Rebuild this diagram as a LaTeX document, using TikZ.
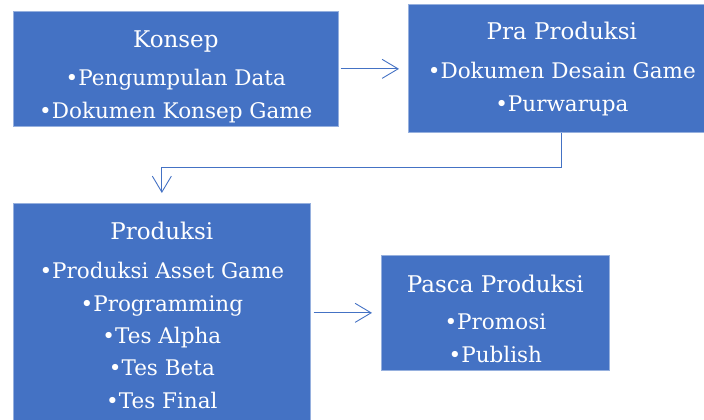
\documentclass[tikz,border=0pt]{standalone}
\usepackage{fontspec}
\setmainfont{DejaVu Serif}
\usetikzlibrary{arrows.meta, positioning}
\definecolor{boxblue}{RGB}{68,114,196}
\definecolor{rimblue}{RGB}{150,176,222}

\tikzset{
	stage/.style={fill=boxblue, draw=rimblue, line width=0.7pt, anchor=north west, inner sep=0pt},
	headtext/.style={text=white, anchor=base, inner sep=0pt, font=\fontsize{23}{27}\selectfont},
	% base of a multi-line node sits on its last line
	itemtext/.style={text=white, anchor=base, inner sep=0pt, align=center, font=\fontsize{21.5}{32.3}\selectfont},
	flow/.style={boxblue, line width=0.9pt, -{Straight Barb[length=16pt, width=19pt, line width=0.9pt]}}
}

\begin{document}
\begin{tikzpicture}[x=1pt, y=-1pt]
		\useasboundingbox (0,0) rectangle (704,420);
		\clip (0,0) rectangle (704,420);
		
		% boxes
		\node[stage, minimum width=325pt, minimum height=115pt] (konsep) at (13,11) {};
		\node[stage, minimum width=307pt, minimum height=128pt] (praprod) at (408,4) {};
		\node[stage, minimum width=297pt, minimum height=230pt] (produksi) at (13,203) {};
		\node[stage, minimum width=228pt, minimum height=115pt] (pasca) at (381,255) {};
		
		% titles and items
		\node[headtext] (konsep-t) at ([yshift=-37pt]konsep.north) {Konsep};
		\node[itemtext] at ([yshift=-70pt]konsep-t.base) {•Pengumpulan Data\\•Dokumen Konsep Game};
		
		\node[headtext] (praprod-t) at ([yshift=-36pt]praprod.north) {Pra Produksi};
		\node[itemtext] at ([yshift=-71pt]praprod-t.base) {•Dokumen Desain Game\\•Purwarupa};
		
		\node[headtext] (produksi-t) at ([yshift=-36pt]produksi.north) {Produksi};
		\node[itemtext] at ([yshift=-169pt]produksi-t.base) {•Produksi Asset Game\\•Programming\\•Tes Alpha\\•Tes Beta\\•Tes Final};
		
		\node[headtext] (pasca-t) at ([yshift=-37pt]pasca.north) {Pasca Produksi};
		\node[itemtext] at ([yshift=-70pt]pasca-t.base) {•Promosi\\•Publish};
		
		% arrows between stages
		\draw[flow, shorten <=2pt, shorten >=9pt] (konsep.east) -- (konsep.east -| praprod.west);
		\draw[flow, shorten >=10pt] (praprod.south) -- ++(0,35) -| (produksi.north);
		\draw[flow, shorten <=3pt, shorten >=9pt] (produksi.east |- pasca.west) -- (pasca.west);
	\end{tikzpicture}
\end{document}
